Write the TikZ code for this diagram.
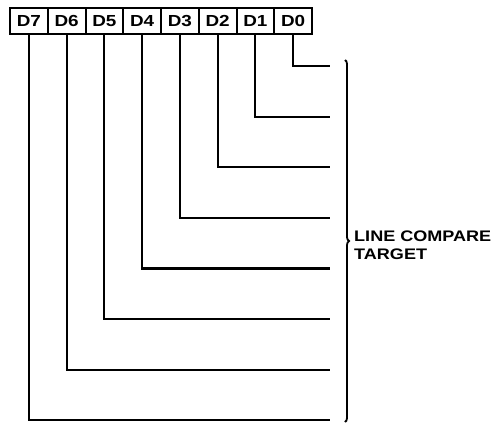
\documentclass[tikz,border=0pt]{standalone}
\usepackage{fontspec}
\setmainfont{Liberation Sans}[FakeStretch=1.18]
\usetikzlibrary{decorations.pathreplacing}
\begin{document}
\begin{tikzpicture}[x=1pt,y=-1pt,
  bitbox/.style={draw,line width=2pt,minimum width=37.75pt,minimum height=26pt,inner sep=0pt,
    font=\fontsize{16}{18}\selectfont\bfseries},
  wire/.style={line width=2.2pt},
  lbl/.style={font=\fontsize{15.3}{18}\selectfont\bfseries,align=left,inner sep=0pt,anchor=west}]
\useasboundingbox (0,0) rectangle (497,423);
\foreach \i/\n in {0/7,1/6,2/5,3/4,4/3,5/2,6/1,7/0}{
  \node[bitbox] (d\n) at ({10+18.875+37.75*\i},21) {D\n};
}
\foreach \n in {0,...,7}{
  \coordinate (e\n) at (330,{66+50.6*\n});
  \draw[wire] (d\n.south) |- (e\n);
}
\coordinate (bt) at (345,60);
\coordinate (bb) at (345,422);
\draw[line width=1.8pt,decorate,decoration={brace,amplitude=4pt}] (bt) -- (bb);
\node[lbl] (t) at (354,245) {LINE COMPARE\\TARGET};
\end{tikzpicture}
\end{document}
